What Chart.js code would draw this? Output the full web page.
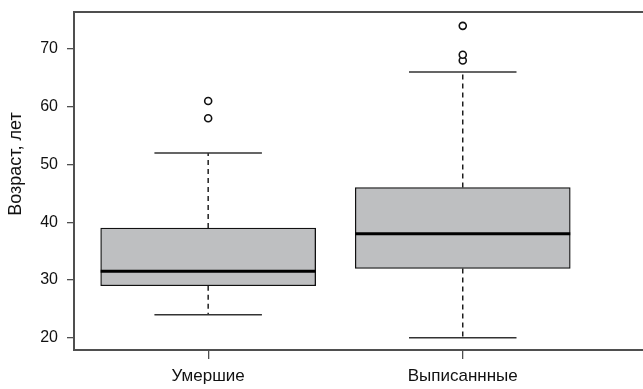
<!DOCTYPE html>
<html>
<head>
<meta charset="utf-8">
<script src="https://cdn.jsdelivr.net/npm/chart.js@4"></script>
<style>
  html, body { margin: 0; padding: 0; background: #ffffff; }
  canvas { display: block; }
</style>
</head>
<body>
<canvas id="chart" width="643" height="389"></canvas>
<script>
// Age by outcome group: box-and-whisker summary
const groups = ['Умершие', 'Выписаннные'];
const groupPos = [1, 2];
const q1 = [29, 32];
const medians = [31.5, 38];
const q3 = [39, 46];
const whiskerLow = [24, 20];
const whiskerHigh = [52, 66];
const outliers = [[58, 61], [68, 69, 74]];
const yTicks = [20, 30, 40, 50, 60, 70];
const yTitle = 'Возраст, лет';

const FONT = '"Liberation Sans", Arial, Helvetica, sans-serif';
const FRAME = '#4f4f4f';
const INK = '#111111';

const boxData = groupPos.map((x, i) => ({ x: x, y: [q1[i], q3[i]] }));
const outlierData = [];
outliers.forEach((list, i) => list.forEach(v => outlierData.push({ x: groupPos[i], y: v })));

// Whiskers, caps, medians and the open-ended frame
const boxParts = {
  id: 'boxParts',
  beforeDatasetsDraw(chart) {
    const { ctx, scales: { x, y } } = chart;
    const bars = chart.getDatasetMeta(0).data;
    ctx.save();
    groupPos.forEach((g, i) => {
      const cx = x.getPixelForValue(g);
      const half = bars[i].width / 4;
      ctx.strokeStyle = INK;
      ctx.lineWidth = 1.4;
      ctx.setLineDash([5, 4]);
      ctx.beginPath();
      ctx.moveTo(cx, y.getPixelForValue(q3[i]));
      ctx.lineTo(cx, y.getPixelForValue(whiskerHigh[i]));
      ctx.moveTo(cx, y.getPixelForValue(q1[i]));
      ctx.lineTo(cx, y.getPixelForValue(whiskerLow[i]));
      ctx.stroke();
      ctx.setLineDash([]);
      ctx.strokeStyle = '#333333';
      ctx.lineWidth = 1.5;
      ctx.beginPath();
      [whiskerHigh[i], whiskerLow[i]].forEach(v => {
        const py = y.getPixelForValue(v);
        ctx.moveTo(cx - half, py);
        ctx.lineTo(cx + half, py);
      });
      ctx.stroke();
    });
    ctx.restore();
  },
  afterDatasetDraw(chart, args) {
    if (args.index !== 0) return;
    const { ctx, scales: { y } } = chart;
    const bars = chart.getDatasetMeta(0).data;
    ctx.save();
    ctx.strokeStyle = '#000000';
    ctx.lineWidth = 3;
    bars.forEach((bar, i) => {
      const py = y.getPixelForValue(medians[i]);
      ctx.beginPath();
      ctx.moveTo(bar.x - bar.width / 2, py);
      ctx.lineTo(bar.x + bar.width / 2, py);
      ctx.stroke();
    });
    ctx.restore();
  },
  afterDraw(chart) {
    const { ctx, chartArea } = chart;
    ctx.save();
    ctx.strokeStyle = FRAME;
    ctx.lineWidth = 2;
    ctx.beginPath();
    ctx.moveTo(chartArea.left - 1, chartArea.top);
    ctx.lineTo(chart.width, chartArea.top);
    ctx.moveTo(chartArea.right, chartArea.bottom);
    ctx.lineTo(chart.width, chartArea.bottom);
    ctx.stroke();
    ctx.translate(16, 164);
    ctx.rotate(-Math.PI / 2);
    ctx.fillStyle = INK;
    ctx.font = '18px ' + FONT;
    ctx.textAlign = 'center';
    ctx.textBaseline = 'middle';
    ctx.fillText(yTitle, 0, 0);
    ctx.restore();
  }
};

new Chart(document.getElementById('chart'), {
  type: 'bar',
  data: {
    datasets: [
      {
        type: 'bar',
        data: boxData,
        backgroundColor: '#bebfc1',
        borderColor: INK,
        borderWidth: 1.3,
        borderSkipped: false,
        barThickness: 215
      },
      {
        type: 'scatter',
        data: outlierData,
        pointStyle: 'circle',
        pointRadius: 3.5,
        pointBackgroundColor: '#ffffff',
        pointBorderColor: INK,
        pointBorderWidth: 1.6
      }
    ]
  },
  options: {
    responsive: false,
    devicePixelRatio: 1,
    animation: false,
    events: [],
    layout: { padding: { top: 12, right: 0, left: 0, bottom: 0 } },
    plugins: { legend: { display: false }, tooltip: { enabled: false } },
    scales: {
      x: {
        type: 'linear',
        min: 0.473,
        max: 2.686,
        offset: false,
        afterFit(scale) {
          scale.height = 39;
          scale.paddingLeft = 0;
          scale.paddingRight = 0;
        },
        afterBuildTicks(scale) { scale.ticks = groupPos.map(v => ({ value: v })); },
        grid: { display: true, offset: false, drawOnChartArea: false, tickLength: 9, color: FRAME, lineWidth: 1.3 },
        border: { display: true, color: FRAME, width: 2 },
        ticks: {
          autoSkip: false,
          maxRotation: 0,
          padding: 7,
          color: INK,
          font: { family: FONT, size: 17 },
          callback: (v) => groups[groupPos.indexOf(v)]
        }
      },
      y: {
        type: 'linear',
        min: 17.88,
        max: 76.4,
        afterFit(scale) {
          scale.width = 74;
          scale.paddingTop = 0;
          scale.paddingBottom = 0;
        },
        afterBuildTicks(scale) { scale.ticks = yTicks.map(v => ({ value: v })); },
        grid: { display: true, drawOnChartArea: false, tickLength: 7, color: FRAME, lineWidth: 1.3 },
        border: { display: true, color: FRAME, width: 2 },
        ticks: {
          padding: 9,
          color: INK,
          font: { family: FONT, size: 16 },
          callback: (v) => String(v)
        }
      }
    }
  },
  plugins: [boxParts]
});
</script>
</body>
</html>
